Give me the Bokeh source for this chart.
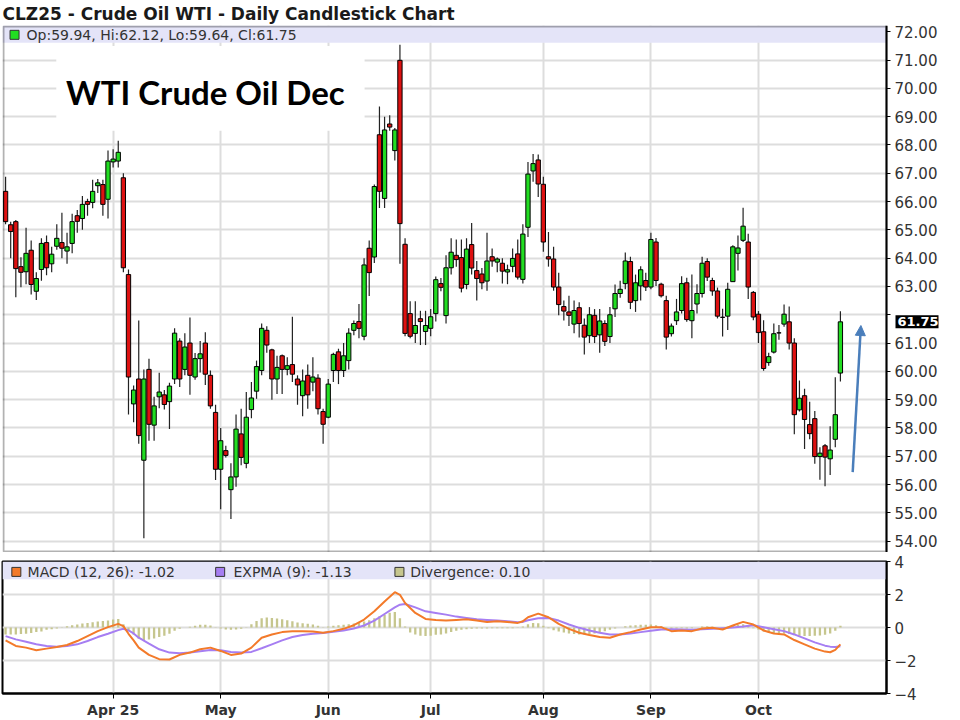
from bokeh.plotting import figure
from bokeh.layouts import column
from bokeh.models import (ColumnDataSource, Range1d, FixedTicker, NumeralTickFormatter,
                          BoxAnnotation, Label, Arrow, NormalHead, Grid, LinearAxis)
from bokeh.embed import file_html
from bokeh.resources import INLINE

# ---------------- data ----------------
title_text = "CLZ25 - Crude Oil WTI - Daily Candlestick Chart"
month_idx = [21, 42, 63, 83, 105, 126, 147]
month_labels = ["Apr 25", "May", "Jun", "Jul", "Aug", "Sep", "Oct"]
price_ticks = list(range(54, 73))
macd_ticks = [-4, -2, 0, 2, 4]

opens = [66.36, 65.18, 65.29, 63.70, 63.52, 64.28, 62.83, 63.60, 64.55, 63.80,
         64.42, 64.55, 64.25, 64.52, 65.50, 65.40, 66.00, 65.97, 66.56, 66.60,
         66.08, 67.40, 67.43, 66.84, 63.42, 58.85, 59.73, 56.86, 60.07, 58.10,
         59.10, 59.17, 58.93, 59.73, 61.07, 60.07, 61.00, 59.80, 60.45, 61.00,
         59.86, 58.55, 56.54, 57.20, 55.82, 56.27, 57.79, 56.75, 58.65, 59.30,
         60.03, 61.45, 60.76, 59.73, 60.55, 60.07, 60.24, 59.73, 59.14, 59.86,
         59.62, 59.76, 58.58, 58.38, 60.03, 60.69, 60.03, 60.38, 61.45, 61.76,
         61.24, 64.35, 64.04, 68.36, 66.11, 68.74, 67.80, 70.99, 64.49, 62.04,
         61.34, 61.86, 61.41, 61.52, 62.04, 63.10, 61.97, 63.66, 64.10, 64.02,
         63.07, 64.48, 63.56, 63.44, 63.19, 64.05, 63.86, 63.82, 63.51, 63.71,
         64.15, 63.25, 65.09, 67.08, 67.47, 66.61, 64.05, 63.97, 62.98, 62.29,
         62.10, 61.67, 62.25, 61.63, 61.26, 61.98, 61.29, 61.69, 61.23, 62.21,
         62.75, 63.10, 63.88, 62.50, 63.02, 63.21, 62.98, 64.57, 63.08, 62.50,
         61.33, 61.79, 62.15, 63.13, 61.79, 62.38, 62.75, 63.88, 63.21, 62.84,
         61.91, 61.95, 63.17, 64.17, 64.63, 64.57, 62.79, 62.02, 61.40, 60.31,
         60.68, 61.36, 61.67, 61.75, 61.00, 58.64, 59.14, 58.12, 58.33, 56.99,
         57.37, 56.91, 57.60, 59.94]
highs = [66.88, 65.29, 65.35, 64.03, 65.07, 64.62, 63.50, 64.70, 64.80, 64.40,
         65.20, 65.60, 64.90, 65.57, 65.70, 66.20, 66.10, 66.77, 66.80, 66.77,
         67.80, 67.85, 68.15, 67.00, 63.60, 59.50, 61.80, 60.07, 60.45, 59.10,
         59.95, 59.34, 59.60, 61.52, 61.17, 61.35, 61.90, 60.65, 61.07, 61.38,
         60.03, 58.82, 58.00, 57.37, 56.75, 58.48, 58.68, 59.27, 59.62, 60.38,
         61.69, 61.59, 60.80, 60.55, 60.60, 60.50, 61.93, 59.86, 60.07, 60.24,
         60.50, 59.90, 58.68, 59.73, 60.66, 60.80, 61.00, 61.52, 61.80, 62.38,
         64.00, 64.62, 66.60, 69.36, 69.00, 69.05, 68.60, 71.54, 64.70, 62.48,
         62.48, 62.14, 62.14, 62.20, 63.35, 63.30, 64.10, 64.70, 64.66, 64.66,
         64.70, 65.24, 63.90, 63.65, 64.90, 64.34, 64.02, 64.00, 63.77, 64.34,
         64.66, 65.20, 67.40, 67.68, 67.66, 66.88, 64.92, 64.40, 63.48, 62.50,
         62.67, 62.50, 62.44, 61.87, 62.27, 62.20, 62.20, 61.81, 62.27, 63.07,
         63.20, 64.20, 64.05, 63.42, 63.71, 63.48, 64.90, 64.71, 63.13, 62.67,
         61.69, 62.56, 63.36, 63.31, 63.42, 63.08, 64.05, 64.00, 63.31, 62.96,
         62.21, 63.13, 64.46, 64.80, 65.78, 64.86, 62.84, 62.13, 61.81, 60.66,
         61.69, 61.64, 62.36, 62.29, 61.17, 59.68, 59.39, 58.93, 58.60, 57.32,
         57.43, 58.06, 59.79, 62.12]
lows = [65.20, 64.00, 62.62, 62.97, 63.08, 62.72, 62.52, 63.20, 63.40, 63.50,
        64.30, 64.00, 63.80, 64.17, 64.90, 65.00, 65.50, 65.76, 66.30, 65.50,
        65.40, 67.20, 67.20, 63.50, 58.48, 58.20, 57.44, 54.10, 57.55, 57.55,
        58.70, 58.65, 57.96, 59.55, 59.45, 59.86, 59.17, 59.70, 59.96, 59.52,
        58.68, 56.16, 55.13, 56.96, 54.78, 55.92, 56.68, 56.58, 58.34, 59.03,
        59.86, 60.66, 59.00, 59.20, 59.20, 59.86, 59.62, 58.82, 58.41, 58.68,
        59.30, 58.48, 57.44, 58.34, 59.62, 59.55, 59.80, 60.07, 61.28, 61.17,
        61.10, 62.66, 63.83, 65.77, 65.77, 68.50, 67.45, 63.80, 61.24, 61.17,
        61.00, 60.93, 60.93, 61.24, 61.76, 62.83, 61.69, 63.42, 63.70, 62.79,
        62.90, 63.42, 62.50, 62.90, 62.85, 63.70, 63.50, 63.10, 63.08, 63.50,
        63.25, 63.10, 64.75, 66.70, 66.16, 64.23, 63.70, 62.85, 61.98, 61.80,
        61.60, 61.35, 61.20, 60.60, 61.00, 61.00, 60.66, 60.90, 61.00, 61.92,
        62.60, 62.90, 62.20, 62.10, 62.50, 62.84, 62.90, 63.02, 62.61, 60.77,
        61.23, 61.64, 62.04, 61.75, 61.17, 62.04, 62.61, 63.19, 62.67, 61.87,
        61.23, 61.46, 63.17, 63.56, 64.57, 62.56, 61.81, 61.00, 60.02, 60.20,
        60.63, 61.12, 61.58, 60.77, 57.78, 58.58, 57.26, 57.60, 56.74, 56.17,
        55.94, 56.34, 57.32, 59.64]
closes = [65.29, 64.94, 63.63, 63.50, 64.17, 63.07, 63.28, 64.52, 63.66, 64.14,
          64.70, 64.35, 64.40, 65.29, 65.30, 65.90, 65.90, 66.36, 66.66, 65.90,
          67.43, 67.50, 67.74, 63.66, 59.80, 59.34, 57.73, 59.73, 58.13, 58.78,
          59.27, 58.83, 59.48, 61.35, 59.73, 60.86, 59.86, 60.45, 60.62, 59.90,
          58.78, 56.54, 57.55, 57.03, 56.27, 57.96, 56.96, 58.38, 59.06, 60.17,
          61.52, 60.93, 59.73, 60.14, 60.07, 60.20, 59.90, 59.52, 59.66, 59.17,
          59.80, 58.68, 58.13, 59.55, 60.60, 60.03, 60.55, 61.35, 61.69, 61.52,
          63.76, 63.49, 66.53, 66.36, 68.53, 68.63, 68.53, 65.22, 61.34, 61.24,
          61.62, 61.76, 61.62, 61.93, 63.24, 62.97, 63.66, 64.21, 63.95, 62.94,
          64.32, 63.65, 63.28, 63.13, 63.90, 63.90, 63.97, 63.54, 63.59, 63.99,
          63.33, 64.85, 66.97, 67.34, 66.62, 64.57, 63.97, 62.98, 62.36, 62.13,
          61.98, 62.15, 61.69, 61.21, 62.00, 61.23, 61.78, 61.06, 62.00, 62.75,
          62.90, 63.90, 62.44, 63.13, 63.59, 62.98, 64.66, 63.21, 62.67, 61.21,
          61.60, 62.10, 63.10, 61.83, 62.15, 62.75, 63.82, 63.33, 62.84, 61.95,
          61.91, 62.90, 64.40, 64.36, 65.13, 62.98, 61.92, 61.37, 60.10, 60.52,
          61.33, 61.36, 62.02, 61.00, 58.47, 59.05, 58.30, 57.80, 56.99, 57.11,
          56.97, 57.22, 58.47, 61.75]

macd_idx = [0, 2, 4, 6, 8, 10, 12, 14, 16, 18, 20, 22, 23, 24, 25, 26, 28, 30, 32, 34,
            36, 38, 40, 42, 44, 46, 48, 50, 52, 54, 56, 58, 60, 62, 64, 66, 68, 70, 72, 74,
            76, 77, 78, 80, 82, 84, 86, 88, 90, 92, 94, 96, 98, 100, 101, 102, 104, 106, 108, 110,
            112, 114, 116, 118, 120, 122, 124, 126, 128, 130, 132, 134, 136, 138, 140, 142, 144, 146, 148, 150,
            152, 154, 156, 158, 160, 161, 162, 163]
macd_vals = [-0.78, -1.12, -1.22, -1.38, -1.28, -1.18, -1.06, -0.82, -0.52, -0.22,
             0.02, 0.22, 0.08, -0.38, -0.78, -1.22, -1.66, -1.92, -1.94, -1.66,
             -1.52, -1.32, -1.22, -1.42, -1.66, -1.58, -1.22, -0.62, -0.42, -0.28,
             -0.22, -0.22, -0.24, -0.32, -0.22, -0.08, 0.14, 0.48, 0.98, 1.58,
             2.14, 1.98, 1.48, 0.88, 0.52, 0.45, 0.42, 0.46, 0.50, 0.42,
             0.34, 0.38, 0.34, 0.28, 0.38, 0.62, 0.84, 0.62, 0.22, -0.08,
             -0.32, -0.46, -0.58, -0.62, -0.42, -0.28, -0.12, 0.02, 0.02, -0.22,
             -0.18, -0.22, -0.06, -0.02, -0.12, 0.12, 0.34, 0.18, -0.18, -0.36,
             -0.42, -0.76, -1.02, -1.28, -1.46, -1.50, -1.36, -1.02]
signal_vals = [-0.52, -0.72, -0.86, -1.02, -1.12, -1.16, -1.12, -1.02, -0.82, -0.58,
               -0.38, -0.16, -0.08, -0.18, -0.36, -0.62, -0.98, -1.32, -1.52, -1.56,
               -1.52, -1.44, -1.36, -1.38, -1.48, -1.52, -1.48, -1.26, -1.02, -0.78,
               -0.58, -0.46, -0.38, -0.34, -0.26, -0.18, -0.06, 0.12, 0.42, 0.82,
               1.22, 1.38, 1.42, 1.22, 0.98, 0.88, 0.78, 0.66, 0.58, 0.50,
               0.46, 0.42, 0.38, 0.32, 0.34, 0.44, 0.56, 0.58, 0.42, 0.18,
               -0.02, -0.18, -0.32, -0.42, -0.42, -0.36, -0.28, -0.20, -0.12, -0.10,
               -0.12, -0.14, -0.10, -0.08, -0.04, 0.00, 0.06, 0.14, 0.02, -0.10,
               -0.22, -0.42, -0.66, -0.90, -1.10, -1.16, -1.18, -1.13]
divergence = [-0.42, -0.42, -0.42, -0.40, -0.38, -0.34, -0.28, -0.24, -0.14, -0.10,
              -0.06, -0.02, 0.08, 0.14, 0.18, 0.24, 0.28, 0.32, 0.36, 0.40,
              0.42, 0.48, 0.52, 0.20, -0.20, -0.44, -0.68, -0.78, -0.72, -0.66,
              -0.58, -0.50, -0.38, -0.20, -0.08, 0.00, 0.04, 0.10, 0.16, 0.16,
              0.12, 0.02, -0.06, -0.12, -0.14, -0.12, -0.08, -0.02, 0.20, 0.40,
              0.56, 0.60, 0.58, 0.54, 0.50, 0.44, 0.38, 0.30, 0.26, 0.22,
              0.18, 0.10, 0.02, 0.06, 0.10, 0.14, 0.16, 0.20, 0.24, 0.30,
              0.36, 0.44, 0.56, 0.68, 0.78, 0.90, 0.94, 0.56, 0.06, -0.30,
              -0.42, -0.50, -0.52, -0.50, -0.44, -0.42, -0.36, -0.28, -0.20, -0.14,
              -0.10, -0.08, -0.06, -0.06, -0.06, -0.04, -0.04, -0.04, -0.04, -0.04,
              -0.02, 0.06, 0.20, 0.28, 0.26, 0.10, -0.04, -0.16, -0.24, -0.30,
              -0.36, -0.40, -0.42, -0.42, -0.40, -0.36, -0.30, -0.22, -0.14, -0.06,
              0.00, 0.08, 0.12, 0.14, 0.16, 0.16, 0.18, 0.14, 0.08, -0.04,
              -0.08, -0.06, -0.04, -0.06, -0.04, 0.00, 0.06, 0.08, 0.04, 0.00,
              -0.02, 0.04, 0.10, 0.16, 0.20, 0.12, -0.04, -0.14, -0.24, -0.30,
              -0.34, -0.34, -0.36, -0.40, -0.46, -0.50, -0.52, -0.52, -0.50, -0.48,
              -0.44, -0.36, -0.20, 0.10]

last_close = 61.75
legend_price = "Op:59.94, Hi:62.12, Lo:59.64, Cl:61.75"
legend_macd = "MACD (12, 26): -1.02"
legend_signal = "EXPMA (9): -1.13"
legend_div = "Divergence: 0.10"
annotation_text = "WTI Crude Oil Dec"

# ---------------- styling / geometry ----------------
UP = "#22dd22"
DOWN = "#dd1111"
GRID = "#dddddd"
FONT = "DejaVu Sans"
ORANGE = "#f37a2a"
PURPLE = "#a67ef2"
KHAKI = "#c6c68e"
BAND = "#e4e4f8"

X0, X_END = -0.6, 172.0          # plotting area of both panes (trading-day index)
PLOT_W = 884                      # pixels of the plotting area
PX = PLOT_W / (X_END - X0)        # pixels per trading day
P1_W = 936                        # price pane frame also holds its price scale
X1_END = X0 + P1_W / PX
Y0, Y1 = 53.6, 72.22
P1_H = 527

n = len(opens)
idx = list(range(n))
colors = []
tops = []
bots = []
for o, c in zip(opens, closes):
    if abs(c - o) < 0.015:
        colors.append("#222222")
    elif c > o:
        colors.append(UP)
    else:
        colors.append(DOWN)
    tops.append(max(o, c))
    bots.append(min(o, c))

src = ColumnDataSource(dict(x=idx, o=opens, h=highs, l=lows, c=closes,
                            top=tops, bot=bots, color=colors))

# ---------------- price pane ----------------
p1 = figure(x_range=Range1d(X0, X1_END), y_range=Range1d(Y0, Y1),
            frame_width=P1_W, frame_height=P1_H,
            output_backend="svg", toolbar_location=None, x_axis_location=None,
            y_axis_location=None, min_border_left=2, min_border_right=4,
            min_border_bottom=0, min_border_top=0, title=title_text)
p1.title.text_font = FONT
p1.title.text_font_size = "17px"
p1.title.text_font_style = "bold"
p1.title.text_color = "#1a1a1a"
p1.title.align = "left"
p1.title.standoff = 3
p1.outline_line_color = None
p1.xgrid.visible = False
p1.ygrid.visible = False

vg = Grid(dimension=0, ticker=FixedTicker(ticks=month_idx),
          grid_line_color=GRID, grid_line_width=2)
hg = Grid(dimension=1, ticker=FixedTicker(ticks=price_ticks),
          grid_line_color=GRID, grid_line_width=2)
if "cross_bounds" in Grid.properties():
    hg.cross_bounds = (X0, X_END)
p1.add_layout(vg)
p1.add_layout(hg)

# price scale: an axis fixed at the right edge of the plotting area
ya = LinearAxis(fixed_location=X_END, ticker=FixedTicker(ticks=price_ticks),
                formatter=NumeralTickFormatter(format="0.00"))
ya.major_label_overrides = {62: ""}
ya.axis_line_width = 2
ya.axis_line_color = "black"
ya.major_tick_out = 4
ya.major_tick_in = 0
ya.minor_tick_line_color = None
ya.major_label_text_font = FONT
ya.major_label_text_font_size = "15px"
ya.major_label_text_color = "#333333"
ya.major_label_standoff = 4
p1.add_layout(ya, "right")

# legend band and white box under the glyphs
p1.add_layout(BoxAnnotation(left=X0, right=X_END, bottom=71.61, fill_color=BAND,
                            fill_alpha=1.0, line_alpha=0, level="underlay"))
p1.add_layout(BoxAnnotation(left=9.9, right=70.1, bottom=68.5, top=71.5,
                            fill_color="white", fill_alpha=1.0, line_alpha=0,
                            level="underlay"))

p1.segment(x0="x", y0="l", x1="x", y1="h", source=src, line_color="#222222", line_width=1.2)
p1.vbar(x="x", top="top", bottom="bot", width=0.84, source=src,
        fill_color="color", line_color="black", line_width=1)

# pane border (left, top, bottom)
inset_x = 1.0 / PX
inset_y = (Y1 - Y0) / P1_H
p1.add_layout(BoxAnnotation(left=X0 + inset_x, right=X_END, bottom=Y0 + inset_y,
                            top=Y1 - inset_y, fill_alpha=0, line_color="black",
                            line_width=2))

p1.scatter([1.75], [71.89], marker="square", size=9, fill_color=UP, line_color="#333333")
p1.add_layout(Label(x=4.1, y=71.89, text=legend_price, text_font=FONT, text_font_size="14px",
                    text_color="#333333", text_baseline="middle"))

p1.add_layout(Label(x=11.8, y=69.88, text=annotation_text, text_font="Lato",
                    text_font_size="33px", text_font_style="bold", text_color="black",
                    text_baseline="middle"))

# last-price tag on the price scale
tag_kw = dict(x=X_END + 9.0 / PX, y=last_close, text="61.75", text_font=FONT,
              text_font_size="13px", text_font_style="bold", text_color="white",
              text_baseline="middle", text_align="left",
              background_fill_color="black", background_fill_alpha=1.0)
if "padding" in Label.properties():
    tag_kw["padding"] = 2
p1.add_layout(Label(**tag_kw))

# arrow
ac = "#4a7ebb"
p1.add_layout(Arrow(end=NormalHead(size=10, fill_color=ac, line_color=ac),
                    x_start=165.4, y_start=56.44, x_end=167.0, y_end=61.62,
                    line_color=ac, line_width=2.5))

# ---------------- MACD pane ----------------
p2 = figure(x_range=Range1d(X0, X_END), y_range=Range1d(-4, 4), frame_width=PLOT_W,
            frame_height=132, output_backend="svg", toolbar_location=None,
            y_axis_location="right", min_border_left=2, min_border_right=4,
            min_border_top=9, min_border_bottom=0)
p2.outline_line_color = "black"
p2.outline_line_width = 2
p2.xgrid.visible = False
p2.add_layout(Grid(dimension=0, ticker=FixedTicker(ticks=month_idx),
                   grid_line_color=GRID, grid_line_width=2))
p2.ygrid.grid_line_color = GRID
p2.ygrid.grid_line_width = 2

xa = p2.xaxis[0]
xa.ticker = FixedTicker(ticks=month_idx)
xa.major_label_overrides = {k: v for k, v in zip(month_idx, month_labels)}
xa.axis_line_width = 2
xa.major_tick_out = 5
xa.major_tick_in = 0
xa.minor_tick_line_color = None
xa.major_label_text_font = FONT
xa.major_label_text_font_size = "14px"
xa.major_label_text_font_style = "bold"
xa.major_label_text_color = "#333333"
xa.major_label_standoff = 3

ya2 = p2.yaxis[0]
ya2.ticker = FixedTicker(ticks=macd_ticks)
ya2.axis_line_width = 2
ya2.major_tick_out = 4
ya2.major_tick_in = 0
ya2.minor_tick_line_color = None
ya2.major_label_text_font = FONT
ya2.major_label_text_font_size = "15px"
ya2.major_label_text_color = "#333333"
ya2.major_label_standoff = 4

p2.add_layout(BoxAnnotation(bottom=2.93, fill_color=BAND, fill_alpha=1.0, line_alpha=0,
                            level="underlay"))

p2.vbar(x=idx, top=divergence, bottom=0, width=0.45, fill_color=KHAKI, line_color=None)
p2.line(macd_idx, signal_vals, line_color=PURPLE, line_width=2)
p2.line(macd_idx, macd_vals, line_color=ORANGE, line_width=2)

leg_y = 3.37
p2.scatter([2.1, 41.9, 76.9], [leg_y] * 3, marker="square", size=9,
           fill_color=[ORANGE, PURPLE, KHAKI], line_color="#333333")
for lx, lt in [(4.3, legend_macd), (44.5, legend_signal), (79.0, legend_div)]:
    p2.add_layout(Label(x=lx, y=leg_y, text=lt, text_font=FONT, text_font_size="14px",
                        text_color="#333333", text_baseline="middle"))

for p in (p1, p2):
    p.background_fill_color = "white"
    p.border_fill_color = "white"

layout = column(p1, p2, spacing=0)
open("out.html", "w").write(file_html(layout, INLINE))
